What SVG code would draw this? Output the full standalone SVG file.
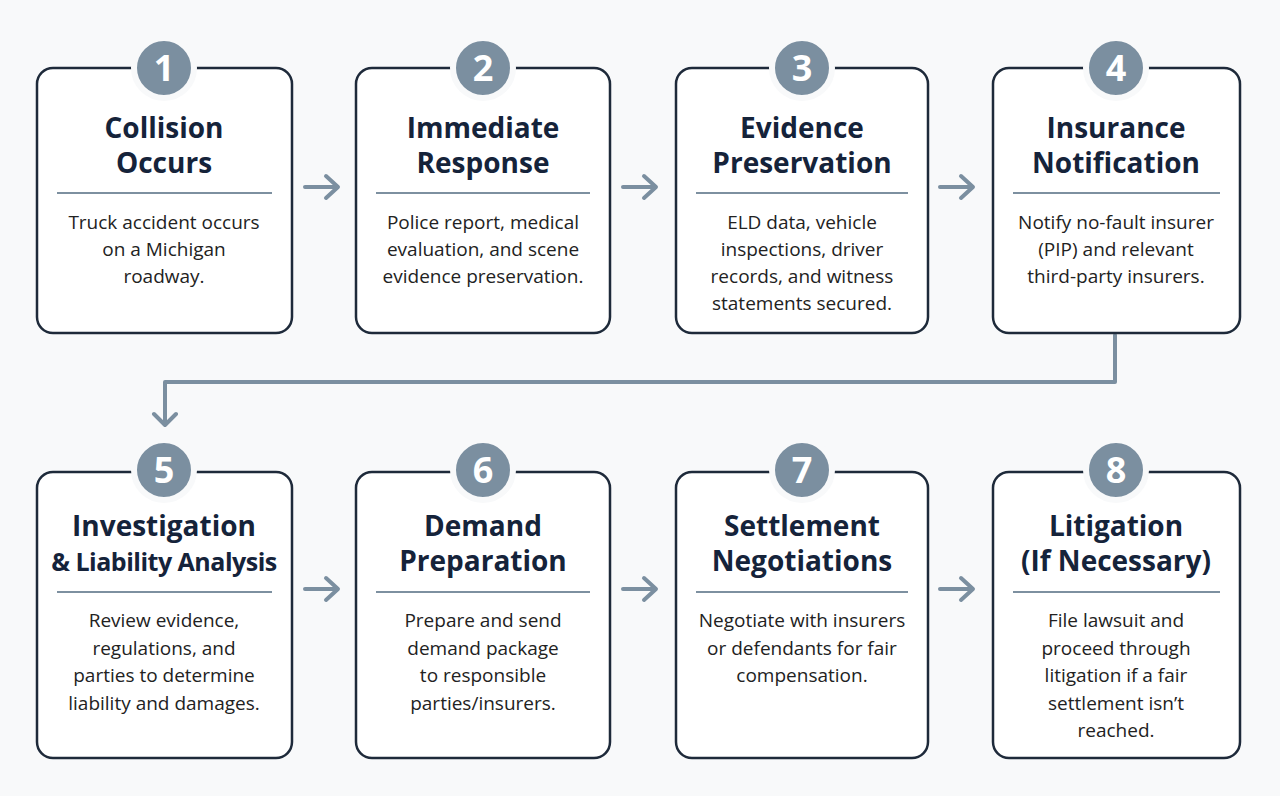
<svg xmlns="http://www.w3.org/2000/svg" width="1280" height="796" viewBox="0 0 1280 796">
<defs>
<style>
.box{fill:#fff;stroke:#1e2a3a;stroke-width:2.5}
.num{fill:#7b8fa0}
.numt{font-family:"Open Sans","Liberation Sans",sans-serif;font-weight:700;font-size:36px;fill:#fff;text-anchor:middle}
.t{font-family:"Open Sans","Liberation Sans",sans-serif;font-weight:700;font-size:28px;fill:#15233a;text-anchor:middle}
.b{font-family:"Open Sans","Liberation Sans",sans-serif;font-size:19px;fill:#222;text-anchor:middle}
.div{stroke:#7d90a0;stroke-width:2}
.c{fill:none;stroke:#7b8fa0;stroke-width:4;stroke-linecap:round;stroke-linejoin:round}
</style>
</defs>
<rect width="1280" height="796" fill="#f8f9fa"/>
<g id="connectors" class="c">
<path d="M305 187H337M326 176L338 187L326 198"/>
<path d="M623 187H655M644 176L656 187L644 198"/>
<path d="M940 187H972M961 176L973 187L961 198"/>
<path d="M1115 335V382H165V424M154 414L165 425L176 414"/>
<path d="M305 589H337M326 578L338 589L326 600"/>
<path d="M623 589H655M644 578L656 589L644 600"/>
<path d="M940 589H972M961 578L973 589L961 600"/>
</g>
<g id="n1"><rect class="box" x="37" y="68" width="255" height="265" rx="16"/><circle class="num" cx="164" cy="68" r="30" stroke="#f8f9fa" stroke-width="6"/><text class="numt" x="164" y="81">1</text>
<text class="t" x="164" y="138">Collision</text><text class="t" x="164" y="173">Occurs</text><line class="div" x1="57" y1="193" x2="272" y2="193"/>
<text class="b" x="164" y="229">Truck accident occurs</text><text class="b" x="164" y="256">on a Michigan</text><text class="b" x="164" y="283">roadway.</text></g>
<g id="n2"><rect class="box" x="356" y="68" width="254" height="265" rx="16"/><circle class="num" cx="483" cy="68" r="30" stroke="#f8f9fa" stroke-width="6"/><text class="numt" x="483" y="81">2</text>
<text class="t" x="483" y="138">Immediate</text><text class="t" x="483" y="173">Response</text><line class="div" x1="376" y1="193" x2="590" y2="193"/>
<text class="b" x="483" y="229">Police report, medical</text><text class="b" x="483" y="256">evaluation, and scene</text><text class="b" x="483" y="283">evidence preservation.</text></g>
<g id="n3"><rect class="box" x="676" y="68" width="252" height="265" rx="16"/><circle class="num" cx="802" cy="68" r="30" stroke="#f8f9fa" stroke-width="6"/><text class="numt" x="802" y="81">3</text>
<text class="t" x="802" y="138">Evidence</text><text class="t" x="802" y="173">Preservation</text><line class="div" x1="696" y1="193" x2="908" y2="193"/>
<text class="b" x="802" y="229">ELD data, vehicle</text><text class="b" x="802" y="256">inspections, driver</text><text class="b" x="802" y="283">records, and witness</text><text class="b" x="802" y="310">statements secured.</text></g>
<g id="n4"><rect class="box" x="993" y="68" width="247" height="265" rx="16"/><circle class="num" cx="1116" cy="68" r="30" stroke="#f8f9fa" stroke-width="6"/><text class="numt" x="1116" y="81">4</text>
<text class="t" x="1116" y="138">Insurance</text><text class="t" x="1116" y="173">Notification</text><line class="div" x1="1013" y1="193" x2="1220" y2="193"/>
<text class="b" x="1116" y="229">Notify no-fault insurer</text><text class="b" x="1116" y="256">(PIP) and relevant</text><text class="b" x="1116" y="283">third-party insurers.</text></g>
<g id="n5"><rect class="box" x="37" y="472" width="255" height="286" rx="16"/><circle class="num" cx="164" cy="470" r="30" stroke="#f8f9fa" stroke-width="6"/><text class="numt" x="164" y="483">5</text>
<text class="t" x="164" y="536">Investigation</text><text class="t" x="164" y="571" style="font-size:25px;letter-spacing:-0.5px">&amp; Liability Analysis</text><line class="div" x1="57" y1="592" x2="272" y2="592"/>
<text class="b" x="164" y="627">Review evidence,</text><text class="b" x="164" y="655">regulations, and</text><text class="b" x="164" y="682">parties to determine</text><text class="b" x="164" y="710">liability and damages.</text></g>
<g id="n6"><rect class="box" x="356" y="472" width="254" height="286" rx="16"/><circle class="num" cx="483" cy="470" r="30" stroke="#f8f9fa" stroke-width="6"/><text class="numt" x="483" y="483">6</text>
<text class="t" x="483" y="536">Demand</text><text class="t" x="483" y="571">Preparation</text><line class="div" x1="376" y1="592" x2="590" y2="592"/>
<text class="b" x="483" y="627">Prepare and send</text><text class="b" x="483" y="655">demand package</text><text class="b" x="483" y="682">to responsible</text><text class="b" x="483" y="710">parties/insurers.</text></g>
<g id="n7"><rect class="box" x="676" y="472" width="252" height="286" rx="16"/><circle class="num" cx="802" cy="470" r="30" stroke="#f8f9fa" stroke-width="6"/><text class="numt" x="802" y="483">7</text>
<text class="t" x="802" y="536">Settlement</text><text class="t" x="802" y="571">Negotiations</text><line class="div" x1="696" y1="592" x2="908" y2="592"/>
<text class="b" x="802" y="627">Negotiate with insurers</text><text class="b" x="802" y="655">or defendants for fair</text><text class="b" x="802" y="682">compensation.</text></g>
<g id="n8"><rect class="box" x="993" y="472" width="247" height="286" rx="16"/><circle class="num" cx="1116" cy="470" r="30" stroke="#f8f9fa" stroke-width="6"/><text class="numt" x="1116" y="483">8</text>
<text class="t" x="1116" y="536">Litigation</text><text class="t" x="1116" y="571">(If Necessary)</text><line class="div" x1="1013" y1="592" x2="1220" y2="592"/>
<text class="b" x="1116" y="627">File lawsuit and</text><text class="b" x="1116" y="655">proceed through</text><text class="b" x="1116" y="682">litigation if a fair</text><text class="b" x="1116" y="710">settlement isn’t</text><text class="b" x="1116" y="737">reached.</text></g>
</svg>
